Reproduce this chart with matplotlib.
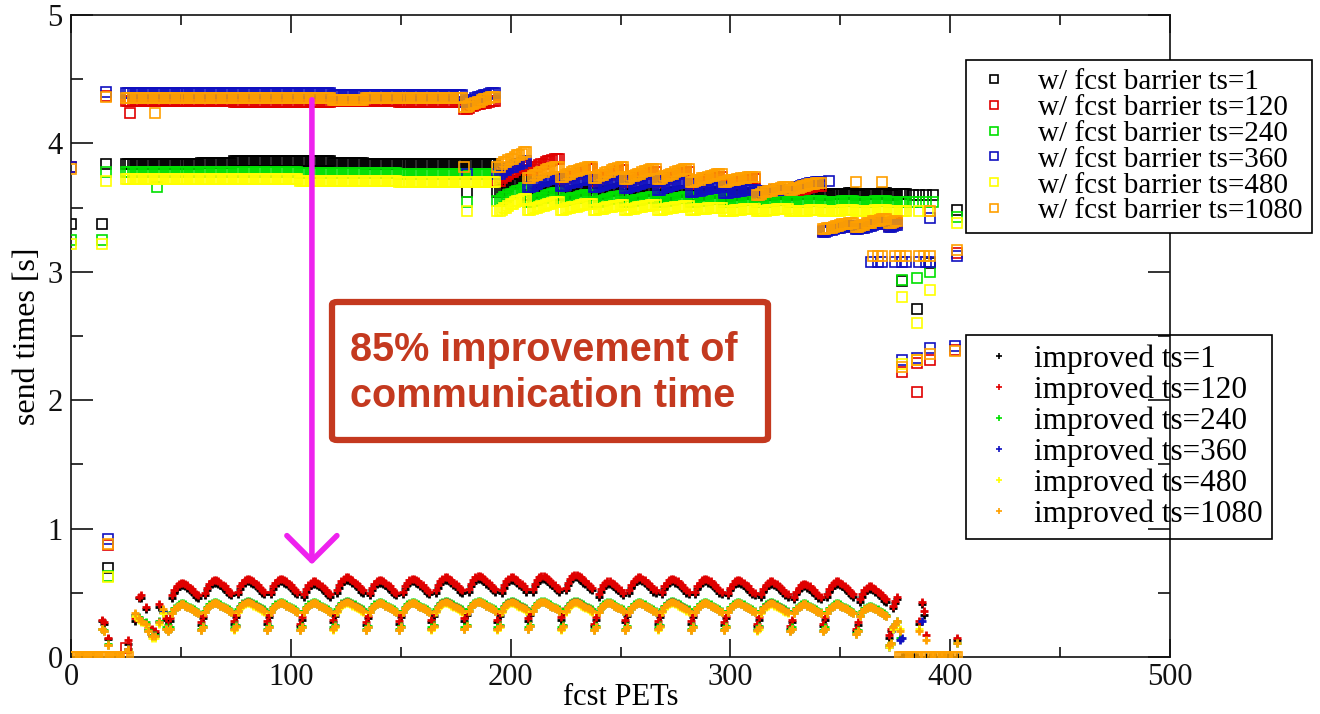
import numpy as np
import matplotlib
matplotlib.use("Agg")
import matplotlib.pyplot as plt
from matplotlib.lines import Line2D
from matplotlib.patches import FancyBboxPatch

# ---------------- data ----------------
ts_labels = ["1", "120", "240", "360", "480", "1080"]
colors = ["#000000", "#e00000", "#00e000", "#1010c0", "#ffff00", "#ffa000"]

# domain tiles (first PET of each tile)
tile_starts = [25, 44, 59, 74, 89, 104, 119, 134, 149, 164, 179, 194,
               208, 223, 238, 252, 267, 282, 297, 312, 327, 342, 357, 372]
# in-tile rise (fraction of the tile's step) of the barrier sawtooth
tile_ramp = [0.0, 0.0, 0.15, 0.3, 0.3, 0.45, 0.55, 0.55, 0.7, 0.8, 0.8, 0.9,
             1.0, 1.0, 1.0, 1.0, 1.0, 1.0, 1.0]

# --- "w/ fcst barrier" : value at start / end of each tile ---
bar_start_1 = [3.84, 3.84, 3.85, 3.86, 3.86, 3.86, 3.85, 3.84, 3.84, 3.84, 3.84, 3.62,
               3.60, 3.60, 3.60, 3.59, 3.59, 3.59, 3.59, 3.59, 3.60, 3.60, 3.60, 3.60]
bar_end_1 = [3.84, 3.84, 3.85, 3.86, 3.86, 3.86, 3.85, 3.84, 3.84, 3.84, 3.84, 3.73,
             3.67, 3.65, 3.65, 3.64, 3.63, 3.62, 3.61, 3.61, 3.61, 3.61, 3.61, 3.61]
bar_start_120 = [4.33, 4.33, 4.33, 4.32, 4.32, 4.32, 4.33, 4.33, 4.32, 4.32, 4.27, 3.71,
                 3.79, 3.72, 3.71, 3.70, 3.70, 3.68, 3.68, 3.59, 3.62, 3.32, 3.34, 3.36]
bar_end_120 = [4.33, 4.33, 4.33, 4.32, 4.32, 4.32, 4.33, 4.33, 4.32, 4.32, 4.33, 3.83,
               3.88, 3.80, 3.79, 3.78, 3.78, 3.74, 3.72, 3.64, 3.67, 3.36, 3.39, 3.42]
bar_start_240 = [3.78, 3.78, 3.78, 3.78, 3.78, 3.77, 3.77, 3.77, 3.76, 3.76, 3.76, 3.55,
                 3.54, 3.55, 3.54, 3.54, 3.54, 3.54, 3.54, 3.54, 3.54, 3.54, 3.54, 3.54]
bar_end_240 = [3.78, 3.78, 3.78, 3.78, 3.78, 3.77, 3.77, 3.77, 3.76, 3.76, 3.76, 3.65,
               3.61, 3.60, 3.59, 3.58, 3.58, 3.57, 3.56, 3.56, 3.55, 3.55, 3.55, 3.55]
bar_start_360 = [4.39, 4.39, 4.39, 4.39, 4.39, 4.39, 4.38, 4.38, 4.38, 4.38, 4.32, 3.76,
                 3.66, 3.67, 3.66, 3.65, 3.64, 3.62, 3.61, 3.62, 3.64, 3.31, 3.33, 3.35]
bar_end_360 = [4.39, 4.39, 4.39, 4.39, 4.39, 4.39, 4.38, 4.38, 4.38, 4.38, 4.39, 3.86,
               3.74, 3.73, 3.72, 3.71, 3.70, 3.66, 3.64, 3.64, 3.70, 3.36, 3.38, 3.40]
bar_start_480 = [3.72, 3.72, 3.72, 3.72, 3.72, 3.71, 3.71, 3.71, 3.70, 3.70, 3.70, 3.47,
                 3.48, 3.48, 3.48, 3.48, 3.48, 3.48, 3.47, 3.47, 3.47, 3.47, 3.47, 3.47]
bar_end_480 = [3.72, 3.72, 3.72, 3.72, 3.72, 3.71, 3.71, 3.71, 3.70, 3.70, 3.70, 3.57,
               3.54, 3.53, 3.52, 3.52, 3.51, 3.50, 3.49, 3.49, 3.48, 3.48, 3.48, 3.48]
bar_start_1080 = [4.35, 4.35, 4.35, 4.35, 4.35, 4.35, 4.34, 4.35, 4.35, 4.35, 4.28, 3.82,
                  3.73, 3.74, 3.73, 3.72, 3.72, 3.70, 3.70, 3.60, 3.64, 3.33, 3.35, 3.38]
bar_end_1080 = [4.35, 4.35, 4.35, 4.35, 4.35, 4.35, 4.34, 4.35, 4.35, 4.35, 4.36, 3.93,
                3.82, 3.82, 3.82, 3.80, 3.80, 3.76, 3.74, 3.66, 3.69, 3.38, 3.41, 3.44]
bar_last_pet = [381, 377, 381, 377, 381, 377]

# isolated barrier points (PET, value)
bar_extra_pets_1 = [0, 14, 16, 17, 180, 383, 386, 389, 392, 378, 385, 391, 403]
bar_extra_vals_1 = [3.37, 3.37, 3.84, 0.69, 3.62, 3.60, 3.60, 3.60, 3.60, 2.93, 2.71, 3.07, 3.48]
bar_extra_pets_120 = [0, 16, 17, 25, 27, 378, 385, 385, 391, 402, 403]
bar_extra_vals_120 = [3.82, 4.37, 0.87, 0.07, 4.24, 2.22, 2.06, 2.29, 2.31, 2.39, 3.15]
bar_extra_pets_240 = [0, 14, 16, 17, 39, 180, 383, 386, 389, 392, 378, 385, 391, 403]
bar_extra_vals_240 = [3.25, 3.25, 3.78, 0.63, 3.66, 3.54, 3.54, 3.54, 3.54, 3.54, 2.94, 2.95, 3.00, 3.43]
bar_extra_pets_360 = [0, 16, 17, 180, 345, 364, 367, 369, 375, 378, 380, 386, 389, 391,
                      391, 378, 385, 391, 402, 403]
bar_extra_vals_360 = [3.82, 4.40, 0.92, 3.76, 3.71, 3.08, 3.08, 3.08, 3.08, 3.08, 3.08, 3.08, 3.08, 3.08,
                      3.42, 2.31, 2.33, 2.41, 2.42, 3.12]
bar_extra_pets_480 = [0, 14, 16, 17, 180, 386, 390, 378, 385, 391, 403, 378, 385]
bar_extra_vals_480 = [3.22, 3.22, 3.71, 0.62, 3.47, 3.47, 3.47, 2.80, 2.60, 2.86, 3.38, 2.28, 2.31]
bar_extra_pets_1080 = [0, 16, 17, 38, 179, 357, 369, 365, 367, 369, 375, 377, 380, 386, 388, 391,
                       391, 378, 385, 391, 402, 403]
bar_extra_vals_1080 = [3.80, 4.36, 0.88, 4.24, 3.82, 3.70, 3.70, 3.12, 3.12, 3.12, 3.12, 3.12, 3.12,
                       3.12, 3.12, 3.12, 3.47, 2.26, 2.31, 2.36, 2.38, 3.17]
# PETs where the ts=1080 barrier run sits at zero
bar_zero_pets_1080 = list(range(0, 27)) + list(range(377, 386)) + list(range(389, 404))

# --- "improved" : early points, then one arch per tile ---
imp_early_pets = [0, 5, 10, 14, 15, 17, 20, 22, 26, 29, 31, 32, 34, 35, 37, 38, 40, 42, 43]
imp_early_1 = [0, 0, 0, 0.28, 0.26, 0.14, 0, 0, 0.10, 0.28, 0.46, 0.46, 0.37, 0.21, 0.20, 0.19, 0.39, 0.35, 0.29]
imp_early_120 = [0, 0, 0, 0.29, 0.27, 0.15, 0, 0, 0.13, 0.30, 0.47, 0.48, 0.39, 0.23, 0.22, 0.20, 0.41, 0.36, 0.30]
imp_early_240 = [0, 0, 0, 0.22, 0.21, 0.10, 0, 0, 0.06, 0.33, 0.31, 0.29, 0.27, 0.21, 0.17, 0.17, 0.28, 0.36, 0.23]
imp_early_360 = [0, 0, 0, 0.22, 0.20, 0.09, 0, 0, 0.06, 0.33, 0.30, 0.28, 0.26, 0.20, 0.16, 0.16, 0.27, 0.35, 0.22]
imp_early_480 = [0, 0, 0, 0.22, 0.20, 0.09, 0, 0, 0.05, 0.32, 0.29, 0.27, 0.25, 0.20, 0.15, 0.15, 0.26, 0.34, 0.22]
imp_early_1080 = [0, 0, 0, 0.22, 0.20, 0.09, 0, 0, 0.06, 0.34, 0.30, 0.28, 0.26, 0.20, 0.16, 0.16, 0.27, 0.37, 0.22]

# arch shape inside one tile (offset from the tile's peak)
arc_upper = [-0.33, -0.28, -0.10, -0.06, -0.03, -0.01, 0.0, 0.0, -0.01, -0.02, -0.04, -0.05, -0.07, -0.09, -0.10]
arc_lower = [-0.21, -0.19, -0.07, -0.04, -0.02, -0.01, 0.0, 0.0, -0.01, -0.02, -0.03, -0.04, -0.05, -0.06, -0.07]

# peak per tile (tiles starting at PET 44 ... 372)
imp_peak_1 = [0.56, 0.58, 0.59, 0.59, 0.57, 0.60, 0.58, 0.59, 0.60, 0.61, 0.60, 0.61,
              0.62, 0.57, 0.60, 0.59, 0.59, 0.58, 0.57, 0.55, 0.57, 0.53, 0.48]
imp_peak_120 = [0.58, 0.60, 0.61, 0.61, 0.59, 0.62, 0.60, 0.61, 0.62, 0.63, 0.62, 0.63,
                0.64, 0.59, 0.62, 0.61, 0.61, 0.60, 0.59, 0.57, 0.59, 0.55, 0.50]
imp_peak_240 = [0.42, 0.43, 0.44, 0.43, 0.43, 0.44, 0.43, 0.43, 0.44, 0.44, 0.44, 0.44,
                0.44, 0.43, 0.43, 0.44, 0.43, 0.43, 0.43, 0.42, 0.42, 0.40, 0.30]
imp_peak_360 = [0.41, 0.42, 0.43, 0.42, 0.42, 0.43, 0.42, 0.42, 0.43, 0.43, 0.43, 0.43,
                0.43, 0.42, 0.42, 0.43, 0.42, 0.42, 0.42, 0.41, 0.41, 0.39, 0.29]
imp_peak_480 = [0.41, 0.42, 0.42, 0.42, 0.42, 0.42, 0.42, 0.42, 0.42, 0.43, 0.42, 0.43,
                0.42, 0.42, 0.42, 0.42, 0.42, 0.42, 0.41, 0.41, 0.41, 0.39, 0.29]
imp_peak_1080 = [0.41, 0.42, 0.43, 0.42, 0.42, 0.43, 0.42, 0.42, 0.43, 0.43, 0.43, 0.43,
                 0.43, 0.42, 0.42, 0.43, 0.42, 0.42, 0.42, 0.41, 0.41, 0.39, 0.30]
imp_last_pet = 377

imp_extra_pets_1 = [386, 387, 388, 403] + list(range(378, 386)) + list(range(389, 404, 2))
imp_extra_vals_1 = [0.26, 0.41, 0.33, 0.13] + [0.0] * 8 + [0.0] * 8
imp_extra_pets_120 = [386, 387, 388, 389, 403]
imp_extra_vals_120 = [0.28, 0.43, 0.36, 0.17, 0.15]
imp_extra_pets_240 = [377, 403]
imp_extra_vals_240 = [0.15, 0.11]
imp_extra_pets_360 = [377, 378, 387]
imp_extra_vals_360 = [0.13, 0.15, 0.28]
imp_extra_pets_480 = [377, 386]
imp_extra_vals_480 = [0.22, 0.22]
imp_extra_pets_1080 = [377, 386, 389, 403]
imp_extra_vals_1080 = [0.20, 0.20, 0.13, 0.11]

# ---------------- build the series ----------------
def barrier_series(starts, ends, last_pet, xp, xv):
    xs, ys = list(xp), list(xv)
    for k, t0 in enumerate(tile_starts):
        t1 = tile_starts[k + 1] if k + 1 < len(tile_starts) else last_pet
        for j, p in enumerate(range(t0, t1)):
            xs.append(p)
            ys.append(starts[k] + (ends[k] - starts[k]) * tile_ramp[j])
    return np.array(xs), np.array(ys)


def improved_series(early, peaks, arc, xp, xv):
    xs, ys = list(imp_early_pets), list(early)
    tiles = tile_starts[1:]
    for k, t0 in enumerate(tiles):
        t1 = tiles[k + 1] if k + 1 < len(tiles) else imp_last_pet
        for j, p in enumerate(range(t0, t1)):
            xs.append(p)
            ys.append(peaks[k] + arc[j])
    xs += list(xp)
    ys += list(xv)
    return np.array(xs), np.array(ys)


bar = [
    barrier_series(bar_start_1, bar_end_1, bar_last_pet[0], bar_extra_pets_1, bar_extra_vals_1),
    barrier_series(bar_start_120, bar_end_120, bar_last_pet[1], bar_extra_pets_120, bar_extra_vals_120),
    barrier_series(bar_start_240, bar_end_240, bar_last_pet[2], bar_extra_pets_240, bar_extra_vals_240),
    barrier_series(bar_start_360, bar_end_360, bar_last_pet[3], bar_extra_pets_360, bar_extra_vals_360),
    barrier_series(bar_start_480, bar_end_480, bar_last_pet[4], bar_extra_pets_480, bar_extra_vals_480),
    barrier_series(bar_start_1080, bar_end_1080, bar_last_pet[5],
                   bar_extra_pets_1080 + bar_zero_pets_1080,
                   bar_extra_vals_1080 + [0.0] * len(bar_zero_pets_1080)),
]
imp = [
    improved_series(imp_early_1, imp_peak_1, arc_upper, imp_extra_pets_1, imp_extra_vals_1),
    improved_series(imp_early_120, imp_peak_120, arc_upper, imp_extra_pets_120, imp_extra_vals_120),
    improved_series(imp_early_240, imp_peak_240, arc_lower, imp_extra_pets_240, imp_extra_vals_240),
    improved_series(imp_early_360, imp_peak_360, arc_lower, imp_extra_pets_360, imp_extra_vals_360),
    improved_series(imp_early_480, imp_peak_480, arc_lower, imp_extra_pets_480, imp_extra_vals_480),
    improved_series(imp_early_1080, imp_peak_1080, arc_lower, imp_extra_pets_1080, imp_extra_vals_1080),
]

# ---------------- figure ----------------
plt.rcParams["font.family"] = ["Liberation Serif", "DejaVu Serif"]
fig = plt.figure(figsize=(13.2, 7.14), dpi=100)
W, H = 1320, 714
ax = fig.add_axes([71 / W, 1 - 657 / H, (1170 - 71) / W, (657 - 15) / H])
ax.set_xlim(0, 500)
ax.set_ylim(0, 5)

for (x, y), c in zip(imp, colors):
    ax.plot(x, y, linestyle="none", marker="+", ms=6, mew=2.0, color=c, zorder=2)
for (x, y), c in zip(bar, colors):
    ax.plot(x, y, linestyle="none", marker="s", ms=6.5, mew=1.2, mfc="none", mec=c, zorder=3)

ax.set_xticks([0, 100, 200, 300, 400, 500])
ax.set_xticks([50, 150, 250, 350, 450], minor=True)
ax.set_yticks([0, 1, 2, 3, 4, 5])
ax.set_yticks([0.5, 1.5, 2.5, 3.5, 4.5], minor=True)
ax.tick_params(axis="both", which="both", direction="in", top=True, right=True,
               labelsize=22, width=1.2, colors="#111111")
ax.tick_params(axis="x", which="major", length=13, pad=4)
ax.tick_params(axis="x", which="minor", length=7)
ax.tick_params(axis="y", which="major", length=16, pad=6)
ax.tick_params(axis="y", which="minor", length=8.5)
for s in ax.spines.values():
    s.set_linewidth(1.2)
    s.set_color("#111111")

ax.set_xlabel("fcst PETs", fontsize=22, labelpad=-6)
ax.set_ylabel("send times [s]", fontsize=23, labelpad=4)

# legends
h1 = [Line2D([], [], linestyle="none", marker="s", ms=6, mew=1.2, mfc="none", mec=c) for c in colors]
leg1 = fig.legend(h1, ["w/ fcst barrier ts=" + t for t in ts_labels], loc="upper left",
                  bbox_to_anchor=(966 / W, 1 - 60 / H), borderaxespad=0, fontsize=21,
                  frameon=True, fancybox=False, edgecolor="black", framealpha=1,
                  handlelength=1.3, handletextpad=0.88, labelspacing=-0.02, borderpad=0.3)
leg1.get_frame().set_linewidth(1.2)
h2 = [Line2D([], [], linestyle="none", marker="+", ms=4, mew=1.2, color=c) for c in colors]
leg2 = fig.legend(h2, ["improved ts=" + t for t in ts_labels], loc="upper left",
                  bbox_to_anchor=(966 / W, 1 - 335 / H), borderaxespad=0, fontsize=22.5,
                  frameon=True, fancybox=False, edgecolor="black",
                  handlelength=1.5, handletextpad=0.36, labelspacing=0.05, borderpad=0.3)
fr2 = leg2.get_frame()
fr2.set_alpha(None)
fr2.set_facecolor("none")
fr2.set_edgecolor("black")
fr2.set_linewidth(1.2)

# annotation: arrow and box
ax.annotate("", xy=(109.6, 0.72), xytext=(109.6, 4.34),
            arrowprops=dict(arrowstyle="->,head_length=0.45,head_width=0.45",
                            color="#ee22ee", lw=4, mutation_scale=40,
                            shrinkA=0, shrinkB=0), zorder=4)
box = FancyBboxPatch((332 / W, 1 - 440 / H), 436 / W, 138 / H,
                     boxstyle="round,pad=0,rounding_size=0.004", transform=fig.transFigure,
                     facecolor="white", edgecolor="#c4391f", linewidth=4.5, zorder=5)
fig.patches.append(box)
fig.text(350 / W, 1 - 373 / H, "85% improvement of\ncommunication time",
         family=["Liberation Sans", "DejaVu Sans"], fontweight="bold", fontsize=28.5,
         color="#c4391f", ha="left", va="center", linespacing=1.28, zorder=6)

fig.savefig("out.png", dpi=100)
